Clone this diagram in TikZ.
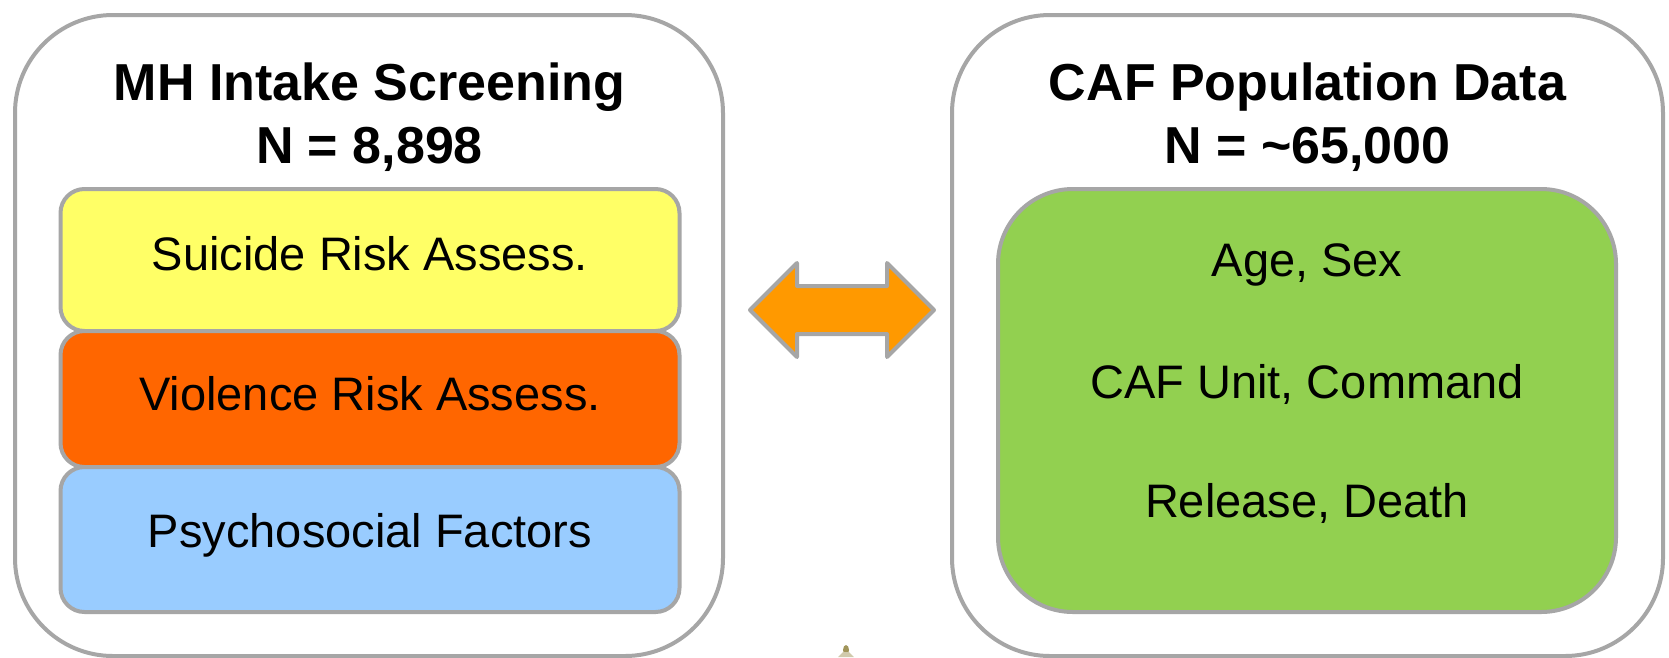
\documentclass[tikz,border=0pt]{standalone}
\usepackage{fontspec}
\setmainfont{Liberation Sans}
\definecolor{bordergray}{HTML}{A6A6A6}
\definecolor{boxyellow}{HTML}{FFFF66}
\definecolor{boxorange}{HTML}{FF6600}
\definecolor{boxblue}{HTML}{99CCFF}
\definecolor{boxgreen}{HTML}{92D050}
\definecolor{arroworange}{HTML}{FF9900}
\definecolor{clipolive}{HTML}{8A7A30}
\begin{document}
\begin{tikzpicture}[x=1pt,y=-1pt,
  outerbox/.style={draw=bordergray, line width=4pt, fill=white, rounded corners=98pt,
    inner sep=0pt, minimum width=#1, minimum height=641pt},
  layerbox/.style={draw=bordergray, line width=4pt, rounded corners=24pt,
    inner sep=0pt, minimum width=619pt},
  titletext/.style={anchor=base, font=\fontsize{52}{60}\selectfont\bfseries},
  bodytext/.style={anchor=base, font=\fontsize{47}{56}\selectfont},
  blockarrow/.style={draw=bordergray, line width=4pt, fill=arroworange, line join=round}]
\useasboundingbox (0,0) rectangle (1669,657);

% left panel
\node[outerbox=708pt] (leftpanel) at (369,335.5) {};
\node[titletext] (lt1) at (369.5,100) {MH Intake Screening};
\node[titletext] (lt2) at (369.5,163) {N = 8,898};
\node[layerbox, fill=boxyellow, minimum height=142pt] (suicide) at (370,260) {};
\node[bodytext] (suicidet) at (370,270) {Suicide Risk Assess.};
\node[layerbox, fill=boxorange, minimum height=136pt] (violence) at (370,399) {};
\node[bodytext] (violencet) at (370,410) {Violence Risk Assess.};
\node[layerbox, fill=boxblue, minimum height=145pt] (psycho) at (370,539.5) {};
\node[bodytext] (psychot) at (370,547) {Psychosocial Factors};

% right panel
\node[outerbox=711pt] (rightpanel) at (1307.5,335.5) {};
\node[titletext] (rt1) at (1307.5,100) {CAF Population Data};
\node[titletext] (rt2) at (1307.5,163) {N = \char"007E 65,000};
\node[draw=bordergray, line width=4pt, fill=boxgreen, rounded corners=75pt, inner sep=0pt,
  minimum width=618pt, minimum height=423pt] (popdata) at (1307,400.5) {};
\node[bodytext] (age) at (1307,276) {Age, Sex};
\node[bodytext] (unit) at (1307,398) {CAF Unit, Command};
\node[bodytext] (release) at (1307,517) {Release, Death};

% double block arrow between the panels
\draw[blockarrow] (750,310) -- (797,263) -- (797,286) -- (887,286) -- (887,263)
  -- (934,310) -- (887,357) -- (887,334) -- (797,334) -- (797,357) -- cycle;

% small clip-art fragment at the bottom edge
\fill[clipolive!80] (846,650) ellipse (3pt and 5pt);
\fill[clipolive!40] (838,657) -- (843,652) -- (849,652) -- (854,657) -- cycle;
\end{tikzpicture}
\end{document}
